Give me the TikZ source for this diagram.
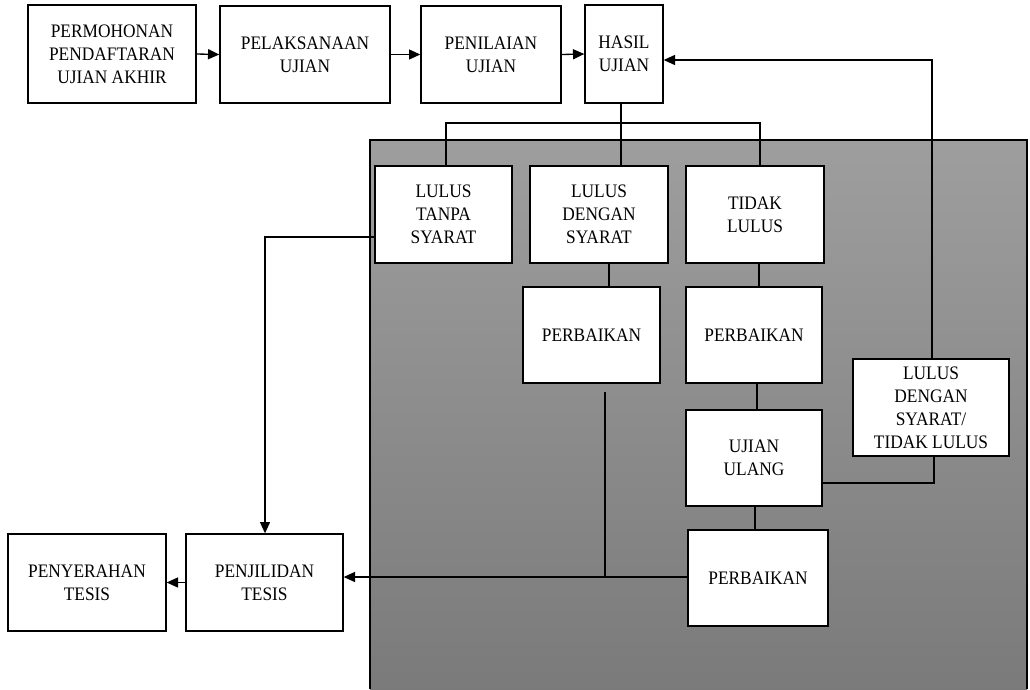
\documentclass[tikz,border=0pt]{standalone}
\usepackage{fontspec}
\setmainfont{Liberation Serif}[FakeStretch=0.91]
\usetikzlibrary{arrows.meta}
\begin{document}
\begin{tikzpicture}[x=0.75pt,y=-0.75pt,
  box/.style={draw=black,fill=white,line width=1pt,inner sep=0pt,align=center,
    font=\fontsize{14.3}{17.2}\selectfont},
  conn/.style={line width=1pt,black},
  arr/.style={conn,-{Triangle[length=8.5pt,width=7.5pt]}}]
\useasboundingbox (0,0) rectangle (1030,689);
% gray panel
\shade[top color=black!38,bottom color=black!52] (370,140) rectangle (1027,689);
\draw[line width=1pt] (370,689) -- (370,140) -- (1027,140) -- (1027,689);
% nodes
\node[box,minimum width=168*0.75pt,minimum height=98*0.75pt] (perm) at (112,54) {PERMOHONAN\\PENDAFTARAN\\UJIAN AKHIR};
\node[box,minimum width=170*0.75pt,minimum height=97*0.75pt] (pelak) at (305,54.5) {PELAKSANAAN\\UJIAN};
\node[box,minimum width=140*0.75pt,minimum height=97*0.75pt] (penil) at (491,54.5) {PENILAIAN\\UJIAN};
\node[box,minimum width=78*0.75pt,minimum height=98*0.75pt] (hasil) at (624,54) {HASIL\\UJIAN};
\node[box,minimum width=137*0.75pt,minimum height=97*0.75pt] (lts) at (443.5,214.5) {LULUS\\TANPA\\SYARAT};
\node[box,minimum width=138*0.75pt,minimum height=97*0.75pt] (lds) at (599,214.5) {LULUS\\DENGAN\\SYARAT};
\node[box,minimum width=138*0.75pt,minimum height=97*0.75pt] (tl) at (755,214.5) {TIDAK\\LULUS};
\node[box,minimum width=137*0.75pt,minimum height=96*0.75pt] (p1) at (591.5,335) {PERBAIKAN};
\node[box,minimum width=136*0.75pt,minimum height=96*0.75pt] (p2) at (754,335) {PERBAIKAN};
\node[box,minimum width=136*0.75pt,minimum height=96*0.75pt] (uu) at (754,458) {UJIAN\\ULANG};
\node[box,minimum width=140*0.75pt,minimum height=96*0.75pt] (p3) at (758,578) {PERBAIKAN};
\node[box,minimum width=156*0.75pt,minimum height=97*0.75pt] (ldstl) at (931,407.5) {LULUS\\DENGAN\\SYARAT/\\TIDAK LULUS};
\node[box,minimum width=158*0.75pt,minimum height=97*0.75pt] (peny) at (87,582.5) {PENYERAHAN\\TESIS};
\node[box,minimum width=157*0.75pt,minimum height=97*0.75pt] (penj) at (264.5,582.5) {PENJILIDAN\\TESIS};
% helper coordinates
\coordinate (busL) at (446,123);
\coordinate (busR) at (760,123);
\coordinate (hx) at (621,0);
\coordinate (l1) at (609,0);
\coordinate (l2) at (759,0);
\coordinate (l3) at (757,0);
\coordinate (l4) at (755,0);
\coordinate (p1x) at (605,392);
\coordinate (join) at (605,577);
\coordinate (tsL) at (265,237);
\coordinate (topR) at (932,60);
\coordinate (botR) at (934,483);
% connectors
\draw[arr] (perm.east) -- (pelak.west);
\draw[arr] (pelak.east) -- (penil.west);
\draw[arr] (penil.east) -- (hasil.west);
\draw[conn] (hasil.south -| hx) -- (lds.north -| hx);
\draw[conn] (lts.north -| busL) -- (busL) -- (busR) -- (tl.north -| busR);
\draw[conn] (lds.south -| l1) -- (p1.north -| l1);
\draw[conn] (tl.south -| l2) -- (p2.north -| l2);
\draw[conn] (p2.south -| l3) -- (uu.north -| l3);
\draw[conn] (uu.south -| l4) -- (p3.north -| l4);
\draw[conn] (p1x) -- (join);
\draw[arr] (p3.west |- join) -- (penj.east |- join);
\draw[arr] (penj.west) -- (peny.east);
\draw[arr] (lts.west |- tsL) -- (tsL) -- (penj.north -| tsL);
\draw[arr] (ldstl.north -| topR) -- (topR) -- (hasil.east |- topR);
\draw[conn] (ldstl.south -| botR) -- (botR) -- (uu.east |- botR);
\end{tikzpicture}
\end{document}
